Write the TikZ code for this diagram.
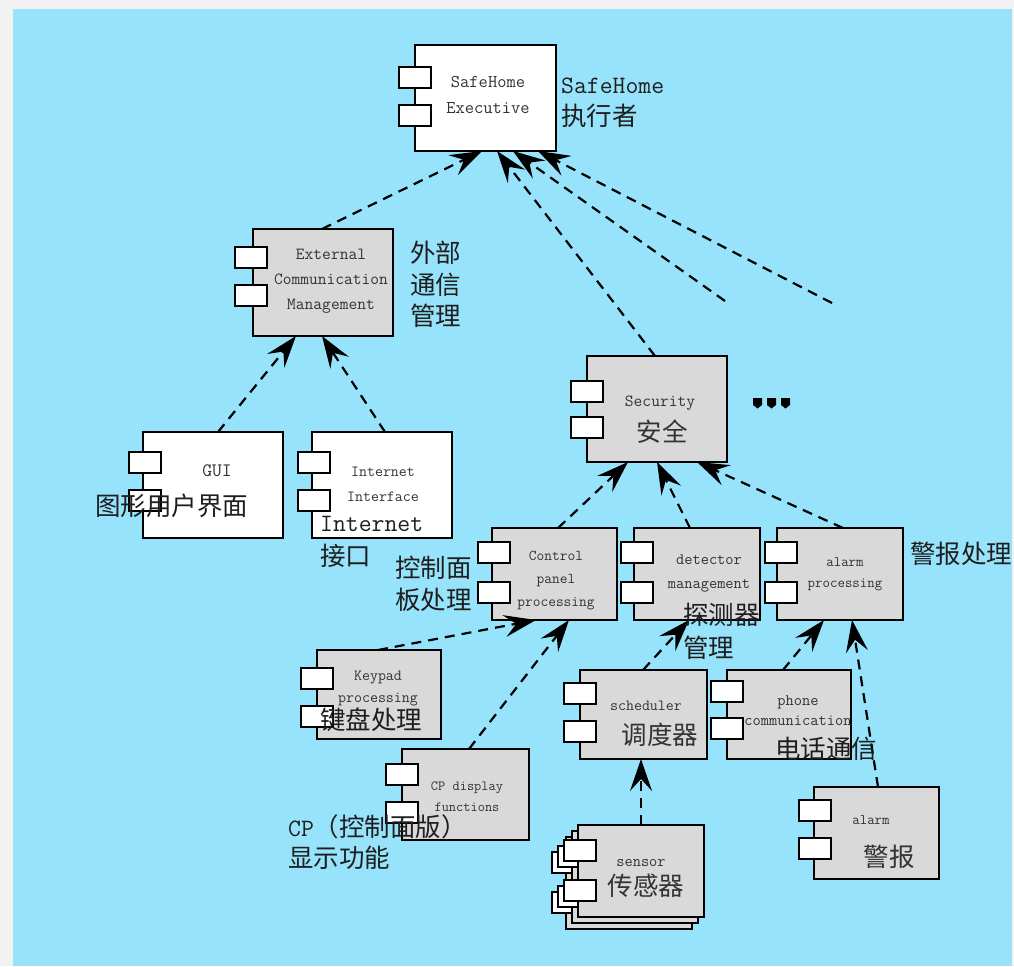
\documentclass[tikz,border=0pt]{standalone}
\usepackage{fontspec}
\newfontfamily\cjk{Noto Sans CJK SC}
\usetikzlibrary{arrows.meta}
\definecolor{bgblue}{HTML}{97E3FC}
\definecolor{outerc}{HTML}{F2F2F2}
\definecolor{boxgray}{HTML}{D9D9D9}
\definecolor{txtc}{HTML}{333333}
\definecolor{lblc}{HTML}{1E1E1E}
\newcommand\fs[2]{\fontsize{#1}{#2}\selectfont}
% name, x1, y1, x2, y2, fill, tab x, tab1 y, tab2 y
\newcommand\comp[9]{%
  \node[compbox,fill=#6,minimum width={#4-#2},minimum height={#5-#3}] (#1) at ({(#2+#4)/2},{(#3+#5)/2}) {};
  \draw[tabbox] (#7,#8) rectangle ++(32,21);
  \draw[tabbox] (#7,#9) rectangle ++(32,21);
}
\tikzset{
  compbox/.style={draw=black,line width=2.2pt,inner sep=0pt,outer sep=0pt,rectangle},
  tabbox/.style={draw=black,fill=white,line width=2.2pt},
  ctext/.style={text=txtc,align=center,inner sep=0pt},
  lbl/.style={text=lblc,anchor=west,inner sep=0pt,font=\cjk\fs{25.5}{31}},
  lbltt/.style={text=lblc,anchor=west,inner sep=0pt,font=\ttfamily\fs{25}{31}},
  dep/.style={draw=black,line width=2.2pt,dash pattern=on 10pt off 7pt,
    -{Stealth[length=32pt,width=22pt,inset=12pt]}},
}
\begin{document}
\begin{tikzpicture}[x=1pt,y=-1pt]
\useasboundingbox (0,0) rectangle (1014,966);
\fill[outerc] (0,0) rectangle (1014,966);
\fill[bgblue] (13,9) rectangle (1012,966);

% components
\comp{exec}{415}{45}{556}{151}{white}{399}{67}{105}
\comp{ext}{253}{229}{393}{336}{boxgray}{235}{247}{285}
\comp{gui}{143}{432}{283}{538}{white}{129}{452}{490}
\comp{inet}{312}{432}{452}{538}{white}{298}{452}{490}
\comp{sec}{587}{356}{727}{462}{boxgray}{571}{381}{417}
\comp{cp}{492}{528}{617}{620}{boxgray}{478}{542}{582}
\comp{det}{634}{528}{760}{620}{boxgray}{621}{542}{582}
\comp{alp}{777}{528}{903}{620}{boxgray}{765}{542}{582}
\comp{key}{317}{650}{441}{739}{boxgray}{301}{668}{706}
\comp{cpd}{402}{749}{529}{840}{boxgray}{386}{764}{802}
\comp{sch}{580}{670}{707}{759}{boxgray}{564}{683}{721}
\comp{ph}{727}{670}{851}{759}{boxgray}{711}{681}{718}
\comp{al}{814}{787}{939}{879}{boxgray}{799}{800}{838}
\comp{sen3}{566}{837}{692}{929}{boxgray}{552}{852}{892}
\comp{sen2}{572}{831}{698}{923}{boxgray}{558}{846}{886}
\comp{sen}{578}{825}{704}{917}{boxgray}{564}{840}{880}

% component texts
\node[ctext,font=\ttfamily\fs{18}{26}] (t-exec) at (488,95) {SafeHome\\Executive};
\node[ctext,font=\ttfamily\fs{17}{25}] (t-ext) at (331,281) {External\\Communication\\Management};
\node[ctext,font=\ttfamily\fs{19}{22}] (t-gui) at (217,471) {GUI};
\node[ctext,font=\ttfamily\fs{15.5}{25}] (t-inet) at (383,484) {Internet\\Interface};
\node[ctext,font=\ttfamily\fs{17}{20}] (t-sec) at (660,403) {Security};
\node[ctext,font=\cjk\fs{25.5}{31}] (t-sec2) at (662,432) {安全};
\node[ctext,font=\ttfamily\fs{15}{23}] (t-cp) at (556,581) {Control\\panel\\processing};
\node[ctext,font=\ttfamily\fs{16}{24}] (t-det) at (709,573) {detector\\management};
\node[ctext,font=\ttfamily\fs{14.5}{21}] (t-alp) at (845,574) {alarm\\processing};
\node[ctext,font=\ttfamily\fs{15.5}{22}] (t-key) at (378,689) {Keypad\\processing};
\node[ctext,font=\ttfamily\fs{14}{21}] (t-cpd) at (467,797) {CP display\\functions};
\node[ctext,font=\ttfamily\fs{15.5}{20}] (t-sch) at (646,706) {scheduler};
\node[ctext,font=\cjk\fs{25.5}{31}] (t-sch2) at (660,735) {调度器};
\node[ctext,font=\ttfamily\fs{16}{20}] (t-ph) at (798,711) {phone\\communication};
\node[ctext,font=\ttfamily\fs{14.5}{20}] (t-al) at (871,820) {alarm};
\node[ctext,font=\cjk\fs{25.5}{31}] (t-al2) at (889,857) {警报};
\node[ctext,font=\ttfamily\fs{16}{20}] (t-sen) at (641,863) {sensor};
\node[ctext,font=\cjk\fs{25.5}{31}] (t-sen2) at (646,886) {传感器};

% ellipsis
\foreach \dx in {0,14,28}{
  \fill[black] (753+\dx,398) -- (762+\dx,398) -- (762+\dx,405) -- (757.5+\dx,408.5) -- (753+\dx,405) -- cycle;
}

% free ends
\coordinate (fa) at (725,301);
\coordinate (fb) at (832,303);

% dependencies
\draw[dep] ([xshift=69pt]ext.north west) -- ([xshift=67pt]exec.south west);
\draw[dep] ([xshift=68pt]sec.north west) -- ([xshift=82pt]exec.south west);
\draw[dep] (fa) -- ([xshift=98pt]exec.south west);
\draw[dep] (fb) -- ([xshift=123pt]exec.south west);
\draw[dep] ([xshift=75pt]gui.north west) -- ([xshift=43pt]ext.south west);
\draw[dep] ([xshift=73pt]inet.north west) -- ([xshift=69pt]ext.south west);
\draw[dep] ([xshift=66pt]cp.north west) -- ([xshift=41pt]sec.south west);
\draw[dep] ([xshift=56pt]det.north west) -- ([xshift=70pt]sec.south west);
\draw[dep] ([xshift=66pt]alp.north west) -- ([xshift=110pt]sec.south west);
\draw[dep] ([xshift=61pt]key.north west) -- ([xshift=44pt]cp.south west);
\draw[dep] ([xshift=67pt]cpd.north west) -- ([xshift=77pt]cp.south west);
\draw[dep] ([xshift=63pt]sch.north west) -- ([xshift=55pt]det.south west);
\draw[dep] ([xshift=56pt]ph.north west) -- ([xshift=47pt]alp.south west);
\draw[dep] ([xshift=64pt]al.north west) -- ([xshift=75pt]alp.south west);
\draw[dep] ([xshift=63pt]sen.north west) -- ([xshift=61pt]sch.south west);

% labels
\node[lbltt] (l-exec1) at (561,86) {SafeHome};
\node[lbl] (l-exec2) at (561,116) {执行者};
\node[lbl] (l-ext1) at (410,253) {外部};
\node[lbl] (l-ext2) at (410,285) {通信};
\node[lbl] (l-ext3) at (410,316) {管理};
\node[lbl] (l-gui) at (95,506) {图形用户界面};
\node[lbltt] (l-inet1) at (320,524) {Internet};
\node[lbl] (l-inet2) at (320,556) {接口};
\node[lbl] (l-cp1) at (395,568) {控制面};
\node[lbl] (l-cp2) at (395,600) {板处理};
\node[lbl] (l-det1) at (683,615) {探测器};
\node[lbl] (l-det2) at (683,648) {管理};
\node[lbl] (l-alp) at (910,554) {警报处理};
\node[lbl] (l-key) at (320,720) {键盘处理};
\node[lbl] (l-cpd1) at (288,827) {{\ttfamily\fs{25}{31}CP}（控制面版）};
\node[lbl] (l-cpd2) at (288,858) {显示功能};
\node[lbl] (l-ph) at (775,749) {电话通信};
\end{tikzpicture}
\end{document}
